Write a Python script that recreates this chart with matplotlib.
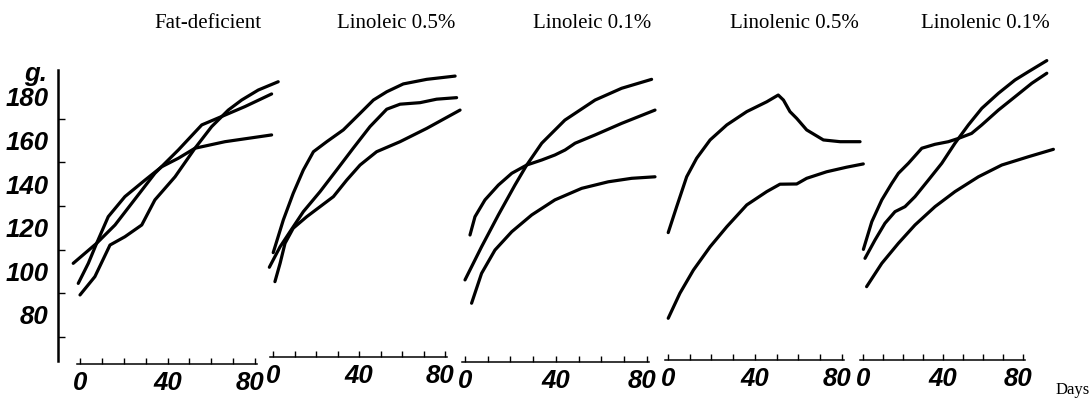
import matplotlib
matplotlib.use("Agg")
import matplotlib.pyplot as plt
from matplotlib.transforms import ScaledTranslation

# ---------- data ----------
titles = ["Fat-deficient", "Linoleic 0.5%", "Linoleic 0.1%", "Linolenic 0.5%", "Linolenic 0.1%"]

# Fat-deficient
fd1_days = [-3.1, 7.6, 16.0, 23.6, 34.2, 44.9, 55.6, 66.2, 75.3, 87.5]
fd1_g = [103.7, 112.9, 121.3, 131.2, 145.0, 155.7, 167.2, 171.7, 175.6, 181.4]
fd2_days = [-0.8, 3.8, 7.6, 12.9, 20.5, 29.7, 37.3, 44.9, 52.5, 66.2, 87.5]
fd2_g = [94.5, 103.7, 112.9, 125.1, 134.3, 141.9, 148.0, 151.9, 156.5, 159.5, 162.6]
fd3_days = [0, 6.8, 13.7, 20.5, 28.2, 34.2, 43.4, 52.5, 60.1, 67.7, 73.8, 81.4, 90.5]
fd3_g = [89.2, 97.6, 112.1, 115.9, 121.3, 132.8, 143.4, 156.5, 166.4, 174.0, 178.6, 183.2, 187.0]

# Linoleic 0.5%
la1_days = [0.1, 4.8, 9.4, 14.1, 18.8, 25.0, 32.7, 40.5, 46.7, 52.9, 60.6, 71.5, 84.7]
la1_g = [108.6, 123.6, 135.8, 146.5, 154.9, 159.5, 164.9, 172.5, 178.6, 182.4, 186.0, 188.1, 189.6]
la2_days = [-1.7, 3.3, 7.9, 14.1, 21.9, 29.6, 37.3, 45.1, 52.9, 59.1, 68.4, 76.1, 85.4]
la2_g = [101.9, 111.3, 118.2, 127.4, 136.6, 146.5, 156.5, 166.4, 174.4, 176.7, 177.4, 179.0, 179.7]
la3_days = [0.9, 3.3, 5.6, 9.4, 15.7, 21.9, 28.1, 34.3, 40.5, 48.2, 59.1, 71.5, 87.0]
la3_g = [95.3, 103.7, 112.9, 119.8, 125.1, 129.7, 134.3, 141.9, 148.8, 154.9, 159.5, 165.6, 174.0]

# Linoleic 0.1%
lb1_days = [0, 7.3, 14.7, 22.0, 27.2, 33.8, 44.0, 57.3, 69.0, 82.2]
lb1_g = [96.1, 111.3, 125.9, 139.6, 148.8, 158.8, 169.4, 178.6, 184.0, 188.1]
lb2_days = [2.2, 4.4, 8.8, 14.7, 20.6, 27.2, 33.8, 39.6, 44.1, 48.5, 57.3, 69.0, 83.7]
lb2_g = [116.7, 125.1, 132.8, 139.6, 145.0, 148.8, 151.1, 153.4, 155.7, 158.8, 162.6, 167.9, 174.0]
lb3_days = [2.9, 7.3, 13.2, 20.6, 29.4, 39.6, 51.4, 63.1, 73.4, 83.7]
lb3_g = [85.4, 99.1, 109.8, 118.2, 125.9, 132.8, 138.1, 141.1, 142.7, 143.4]

# Linolenic 0.5%
na1_days = [0.1, 4.0, 8.6, 13.2, 19.4, 27.1, 36.3, 45.5, 50.8, 53.2, 56.2, 59.3, 63.9, 71.6, 79.3, 88.5]
na1_g = [117.8, 129.7, 143.4, 151.9, 160.3, 167.2, 173.3, 177.8, 180.9, 178.6, 173.3, 170.2, 164.9, 160.3, 159.5, 159.5]
na2_days = [0.1, 5.5, 11.7, 19.4, 27.1, 36.3, 45.5, 51.6, 59.3, 63.9, 73.1, 82.3, 90.0]
na2_g = [78.5, 90.0, 100.6, 111.3, 120.5, 130.5, 136.6, 140.0, 140.1, 142.7, 145.7, 147.8, 149.3]

# Linolenic 0.1%
nb1_days = [0.2, 4.4, 9.4, 14.4, 17.7, 22.7, 29.4, 36.0, 42.7, 47.7, 54.3, 59.4, 67.7, 76.0, 84.4, 91.9]
nb1_g = [110.1, 122.8, 132.8, 140.4, 145.0, 149.6, 156.5, 158.3, 159.5, 161.0, 163.3, 167.2, 174.0, 180.1, 186.3, 190.9]
nb2_days = [1.0, 6.0, 11.0, 16.0, 21.0, 26.0, 32.7, 39.4, 46.0, 52.7, 59.4, 67.7, 76.0, 82.7, 91.9]
nb2_g = [106.0, 114.4, 122.1, 127.4, 129.7, 134.3, 141.9, 149.6, 158.8, 167.2, 174.8, 181.7, 187.8, 191.6, 196.7]
nb3_days = [1.8, 9.4, 17.7, 26.0, 36.0, 46.0, 57.7, 69.4, 82.7, 95.2]
nb3_g = [93.0, 103.7, 112.9, 121.3, 129.7, 136.6, 143.4, 148.8, 152.6, 156.0]

panel_curves = [
    [(fd1_days, fd1_g), (fd2_days, fd2_g), (fd3_days, fd3_g)],
    [(la1_days, la1_g), (la2_days, la2_g), (la3_days, la3_g)],
    [(lb1_days, lb1_g), (lb2_days, lb2_g), (lb3_days, lb3_g)],
    [(na1_days, na1_g), (na2_days, na2_g)],
    [(nb1_days, nb1_g), (nb2_days, nb2_g), (nb3_days, nb3_g)],
]

day_ticks = list(range(0, 81, 10))
day_labels = ["0", "", "", "", "40", "", "", "", "80"]
g_labels = [80, 100, 120, 140, 160, 180]
g_minor = [70, 90, 110, 130, 150, 170]

# ---------- layout (pixels) ----------
W, H = 1092, 401
# left px, right px, px of day 0, px per day, baseline px, title centre px
layout = [
    (58, 285, 80, 2.19, 364, 208),
    (262, 462, 273, 2.15, 357, 396),
    (455, 662, 465, 2.27, 362, 592),
    (660, 868, 668, 2.17, 360, 794),
    (855, 1062, 863, 2.00, 360, 985),
]
TOP = 40


def g_at(ypx):
    return 180 - (ypx - 97) / 2.18


num_font = dict(family=["Liberation Sans", "DejaVu Sans"], style="italic",
                weight="bold", size=18.5)
serif = ["Liberation Serif", "DejaVu Serif"]

fig = plt.figure(figsize=(W / 100, H / 100), dpi=100)
shift_left = ScaledTranslation(-5 / 100, 0, fig.dpi_scale_trans)

for i, (xl, xr, x0, s, base, tc) in enumerate(layout):
    ax = fig.add_axes([xl / W, 1 - base / H, (xr - xl) / W, (base - TOP) / H])
    ax.patch.set_visible(False)
    ax.set_xlim((xl - x0) / s, (xr - x0) / s)
    ax.set_ylim(g_at(base), g_at(TOP))
    for d, g in panel_curves[i]:
        ax.plot(d, g, color="black", lw=2.3, solid_joinstyle="round",
                solid_capstyle="round", clip_on=False)

    for side in ["top", "right"]:
        ax.spines[side].set_visible(False)
    ax.spines["bottom"].set_bounds(-1.5, 81)
    ax.spines["bottom"].set_linewidth(1.1)
    ax.set_xticks(day_ticks)
    ax.set_xticklabels(day_labels, fontdict=num_font)
    ax.tick_params(axis="x", direction="in", length=4, width=1, pad=5)
    lab80 = ax.get_xticklabels()[-1]
    lab80.set_transform(lab80.get_transform() + shift_left)

    if i == 0:
        ax.spines["left"].set_bounds(g_at(361), g_at(70))
        ax.spines["left"].set_linewidth(1.8)
        ax.set_yticks(g_labels)
        ax.set_yticklabels([str(v) for v in g_labels], fontdict=num_font)
        ax.set_yticks(g_minor, minor=True)
        ax.tick_params(axis="y", which="major", length=0, pad=7)
        ax.tick_params(axis="y", which="minor", direction="in", length=5, width=1)
    else:
        ax.spines["left"].set_visible(False)
        ax.set_yticks([])

    fig.text(tc / W, 1 - 24 / H, titles[i], ha="center", va="center",
             family=serif, size=15)

fig.text(36 / W, 1 - 74 / H, "g.", ha="center", va="center", **num_font)
fig.text(1073 / W, 1 - 390 / H, "Days", ha="center", va="center", family=serif, size=12)

fig.savefig("out.png", dpi=100)
